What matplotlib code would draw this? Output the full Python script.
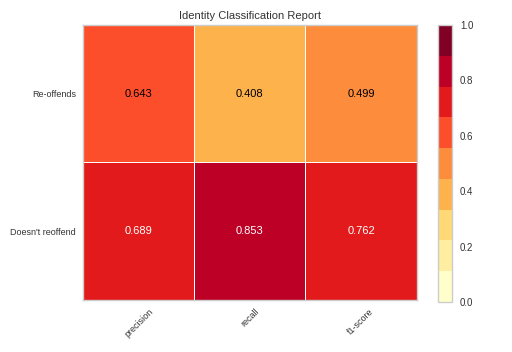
import matplotlib
matplotlib.use("Agg")
import matplotlib.pyplot as plt
import numpy as np
from matplotlib.colors import ListedColormap

plt.rcParams['font.family'] = ['Liberation Sans', 'DejaVu Sans']

classes = ["Doesn't reoffend", "Re-offends"]
metrics = ["precision", "recall", "f1-score"]
precision = [0.689, 0.643]
recall = [0.853, 0.408]
f1 = [0.762, 0.499]

# colorbrewer YlOrRd, 9 steps
colors = ["#ffffcc", "#ffeda0", "#fed976", "#feb24c", "#fd8d3c",
          "#fc4e2a", "#e31a1c", "#bd0026", "#800026"]
cmap = ListedColormap(colors)

scores = np.array([precision, recall, f1]).T

fig = plt.figure(figsize=(5.12, 3.52), dpi=100)
ax = fig.add_axes([0.162, 0.148, 0.652, 0.781])
cax = fig.add_axes([0.855, 0.142, 0.027, 0.787])

mesh = ax.pcolormesh(np.arange(len(metrics) + 1), np.arange(len(classes) + 1),
                     scores, cmap=cmap, vmin=0, vmax=1,
                     edgecolor="white", linewidth=0.5)

for i in range(len(classes)):
    for j in range(len(metrics)):
        v = scores[i, j]
        c = "white" if v > 0.66 else "black"
        ax.text(j + 0.5, i + 0.5, "{:0.3f}".format(v), ha="center", va="center",
                color=c, fontsize=8)

ax.set_xticks(np.arange(len(metrics)) + 0.5)
ax.set_xticklabels(metrics, rotation=45, fontsize=6.5, color="#333333")
ax.set_yticks(np.arange(len(classes)) + 0.5)
ax.set_yticklabels(classes, fontsize=6.5, color="#333333")
ax.tick_params(length=0, pad=5)
ax.set_xlim(0, 3)
ax.set_ylim(0, 2)
for s in ax.spines.values():
    s.set_color("#cccccc")
    s.set_linewidth(1.0)
ax.set_title("Identity Classification Report", fontsize=8, color="#333333", pad=4)

cb = fig.colorbar(mesh, cax=cax)
cb.set_ticks([0.0, 0.2, 0.4, 0.6, 0.8, 1.0])
cb.ax.tick_params(labelsize=7, length=0, colors="#333333", pad=6)
cb.outline.set_edgecolor("#cccccc")
cb.outline.set_linewidth(1.0)

fig.savefig("out.png", dpi=100)
